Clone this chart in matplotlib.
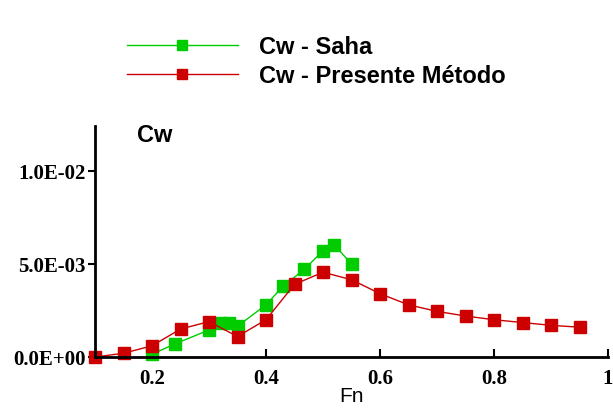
import matplotlib
matplotlib.use("Agg")
import matplotlib.pyplot as plt

# Cw - Saha
fn_saha = [0.20, 0.24, 0.30, 0.32, 0.335, 0.35, 0.40, 0.43, 0.467, 0.50, 0.52, 0.55]
cw_saha = [0.00015, 0.0007, 0.00145, 0.0018, 0.0018, 0.00165, 0.0028, 0.0038,
           0.0047, 0.0057, 0.0060, 0.0050]

# Cw - Presente Metodo
fn_pm = [0.10, 0.15, 0.20, 0.25, 0.30, 0.35, 0.40, 0.45, 0.50, 0.55,
         0.60, 0.65, 0.70, 0.75, 0.80, 0.85, 0.90, 0.95]
cw_pm = [0.0, 0.0002, 0.0006, 0.0015, 0.0019, 0.0011, 0.0020, 0.0039, 0.00455, 0.00415,
         0.0034, 0.0028, 0.00245, 0.0022, 0.0020, 0.00185, 0.0017, 0.0016]

xticks = [0.2, 0.4, 0.6, 0.8, 1.0]
xtick_labels = ["0.2", "0.4", "0.6", "0.8", "1"]
yticks = [0.0, 0.005, 0.01]
ytick_labels = ["0.0E+00", "5.0E-03", "1.0E-02"]

green = "#00cc00"
red = "#cc0000"

fig = plt.figure(figsize=(6.13, 4.10), dpi=100)
ax = fig.add_axes([95 / 613, 1 - 358 / 410, 513 / 613, 231 / 410])

l1, = ax.plot(fn_saha, cw_saha, color=green, lw=1, marker="s", ms=9,
              mec=green, clip_on=False, label="Cw - Saha")
l2, = ax.plot(fn_pm, cw_pm, color=red, lw=1, marker="s", ms=9,
              mec=red, clip_on=False, label="Cw - Presente Método")

ax.set_xlim(0.1, 1.0)
ax.set_ylim(0, 0.0124)

for s in ["top", "right"]:
    ax.spines[s].set_visible(False)
for s in ["left", "bottom"]:
    ax.spines[s].set_linewidth(2)

ax.set_xticks(xticks)
ax.set_xticklabels(xtick_labels)
ax.set_yticks(yticks)
ax.set_yticklabels(ytick_labels)
ax.tick_params(axis="x", direction="in", length=6, width=1.5, pad=8)
ax.tick_params(axis="y", direction="out", length=5, width=1.5, pad=2)
for lab in ax.get_xticklabels() + ax.get_yticklabels():
    lab.set_fontfamily("Liberation Serif")
    lab.set_fontweight("bold")
    lab.set_fontsize(15)

# axis title placed by hand, like the original
fig.text(352 / 613, 1 - 397 / 410, "Fn", fontfamily="Liberation Sans",
         fontsize=15, ha="center", va="center")

ax.text(137 / 613, 1 - 135 / 410, "Cw", transform=fig.transFigure,
        fontfamily="Liberation Sans", fontweight="bold", fontsize=17,
        va="center", ha="left")

leg = fig.legend(handles=[l1, l2], loc="upper left",
                 bbox_to_anchor=(127 / 613, 1 - 36 / 410), frameon=False,
                 borderpad=0, borderaxespad=0, handlelength=4.7,
                 handletextpad=0.9, labelspacing=0.25, markerscale=0.8,
                 prop={"family": "Liberation Sans", "weight": "bold", "size": 17})

fig.savefig("out.png", dpi=100)
